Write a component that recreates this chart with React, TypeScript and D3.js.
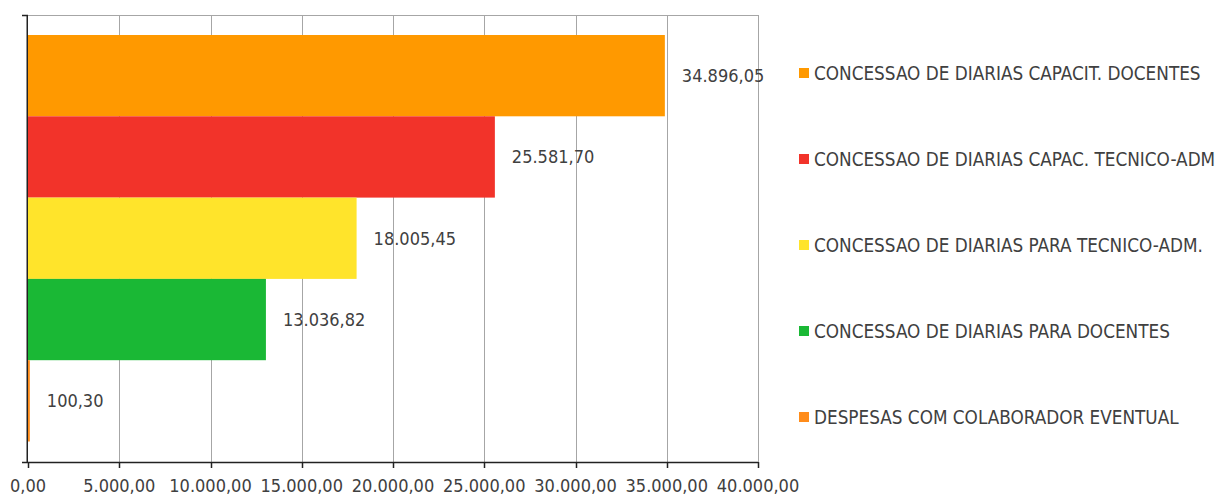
import React from "react";
import * as d3 from "d3";

const categories = [
  "CONCESSAO DE DIARIAS CAPACIT. DOCENTES",
  "CONCESSAO DE DIARIAS CAPAC. TECNICO-ADM",
  "CONCESSAO DE DIARIAS PARA TECNICO-ADM.",
  "CONCESSAO DE DIARIAS PARA DOCENTES",
  "DESPESAS COM COLABORADOR EVENTUAL",
];
const values = [34896.05, 25581.7, 18005.45, 13036.82, 100.3];
const colors = ["#FF9900", "#F2332A", "#FFE42B", "#1AB835", "#FF8C1A"];
const ticks = [0, 5000, 10000, 15000, 20000, 25000, 30000, 35000, 40000];

const fmt = (v: number) => {
  const parts = v.toFixed(2).split(".");
  const int = parts[0].replace(/\B(?=(\d{3})+(?!\d))/g, ".");
  return int + "," + parts[1];
};

const FONT = "'DejaVu Sans Condensed', 'DejaVu Sans', sans-serif";
const TEXT = "#404040";

export default function App() {
  const W = 1218, H = 495;
  const left = 28, right = 758, top = 15, bottom = 462;
  const x = d3.scaleLinear().domain([0, 40000]).range([left, right]);
  const y = d3
    .scaleBand<number>()
    .domain(values.map((_, i) => i))
    .range([35, 441.5])
    .padding(0);

  return (
    <svg
      width={W}
      height={H}
      style={{ position: "absolute", left: 0, top: 0, display: "block" }}
      fontFamily={FONT}
    >
      <rect width={W} height={H} fill="#fff" />
      {/* top border */}
      <line x1={left} x2={right} y1={top + 0.5} y2={top + 0.5} stroke="#A6A6A6" strokeWidth={1} />
      {/* gridlines */}
      {ticks.slice(1).map((t) => (
        <line
          key={t}
          x1={Math.round(x(t)) + 0.5}
          x2={Math.round(x(t)) + 0.5}
          y1={top}
          y2={bottom}
          stroke="#A6A6A6"
          strokeWidth={1}
        />
      ))}
      {/* axes */}
      <line x1={left - 0.75} x2={left - 0.75} y1={top} y2={bottom + 1} stroke="#222" strokeWidth={1.5} />
      <line x1={left - 6} x2={left} y1={top + 0.5} y2={top + 0.5} stroke="#222" strokeWidth={1.5} />
      {/* bars */}
      {values.map((v, i) => (
        <rect
          key={i}
          x={x(0)}
          y={y(i)!}
          width={Math.max(x(v) - x(0), 0)}
          height={y.bandwidth()}
          fill={colors[i]}
        />
      ))}
      {/* value labels */}
      {values.map((v, i) => (
        <text
          key={i}
          x={x(v) + 17}
          y={y(i)! + y.bandwidth() / 2}
          dy="0.35em"
          fontSize={18}
          fill={TEXT}
        >
          {fmt(v)}
        </text>
      ))}
      <line x1={left - 6} x2={right} y1={bottom + 0.5} y2={bottom + 0.5} stroke="#222" strokeWidth={1.5} />
      {ticks.map((t) => (
        <g key={t}>
          <line
            x1={Math.round(x(t)) + 0.5}
            x2={Math.round(x(t)) + 0.5}
            y1={bottom}
            y2={bottom + 6}
            stroke="#222"
            strokeWidth={1.5}
          />
          <text x={x(t)} y={492} textAnchor="middle" fontSize={18} fill={TEXT}>
            {fmt(t)}
          </text>
        </g>
      ))}
      {/* legend */}
      {categories.map((c, i) => (
        <g key={c} transform={`translate(799, ${73 + 86 * i})`}>
          <rect x={0} y={-5} width={10} height={10} fill={colors[i]} />
          <text x={15} y={0} dy="0.36em" fontSize={18.75} fill={TEXT}>
            {c}
          </text>
        </g>
      ))}
    </svg>
  );
}
